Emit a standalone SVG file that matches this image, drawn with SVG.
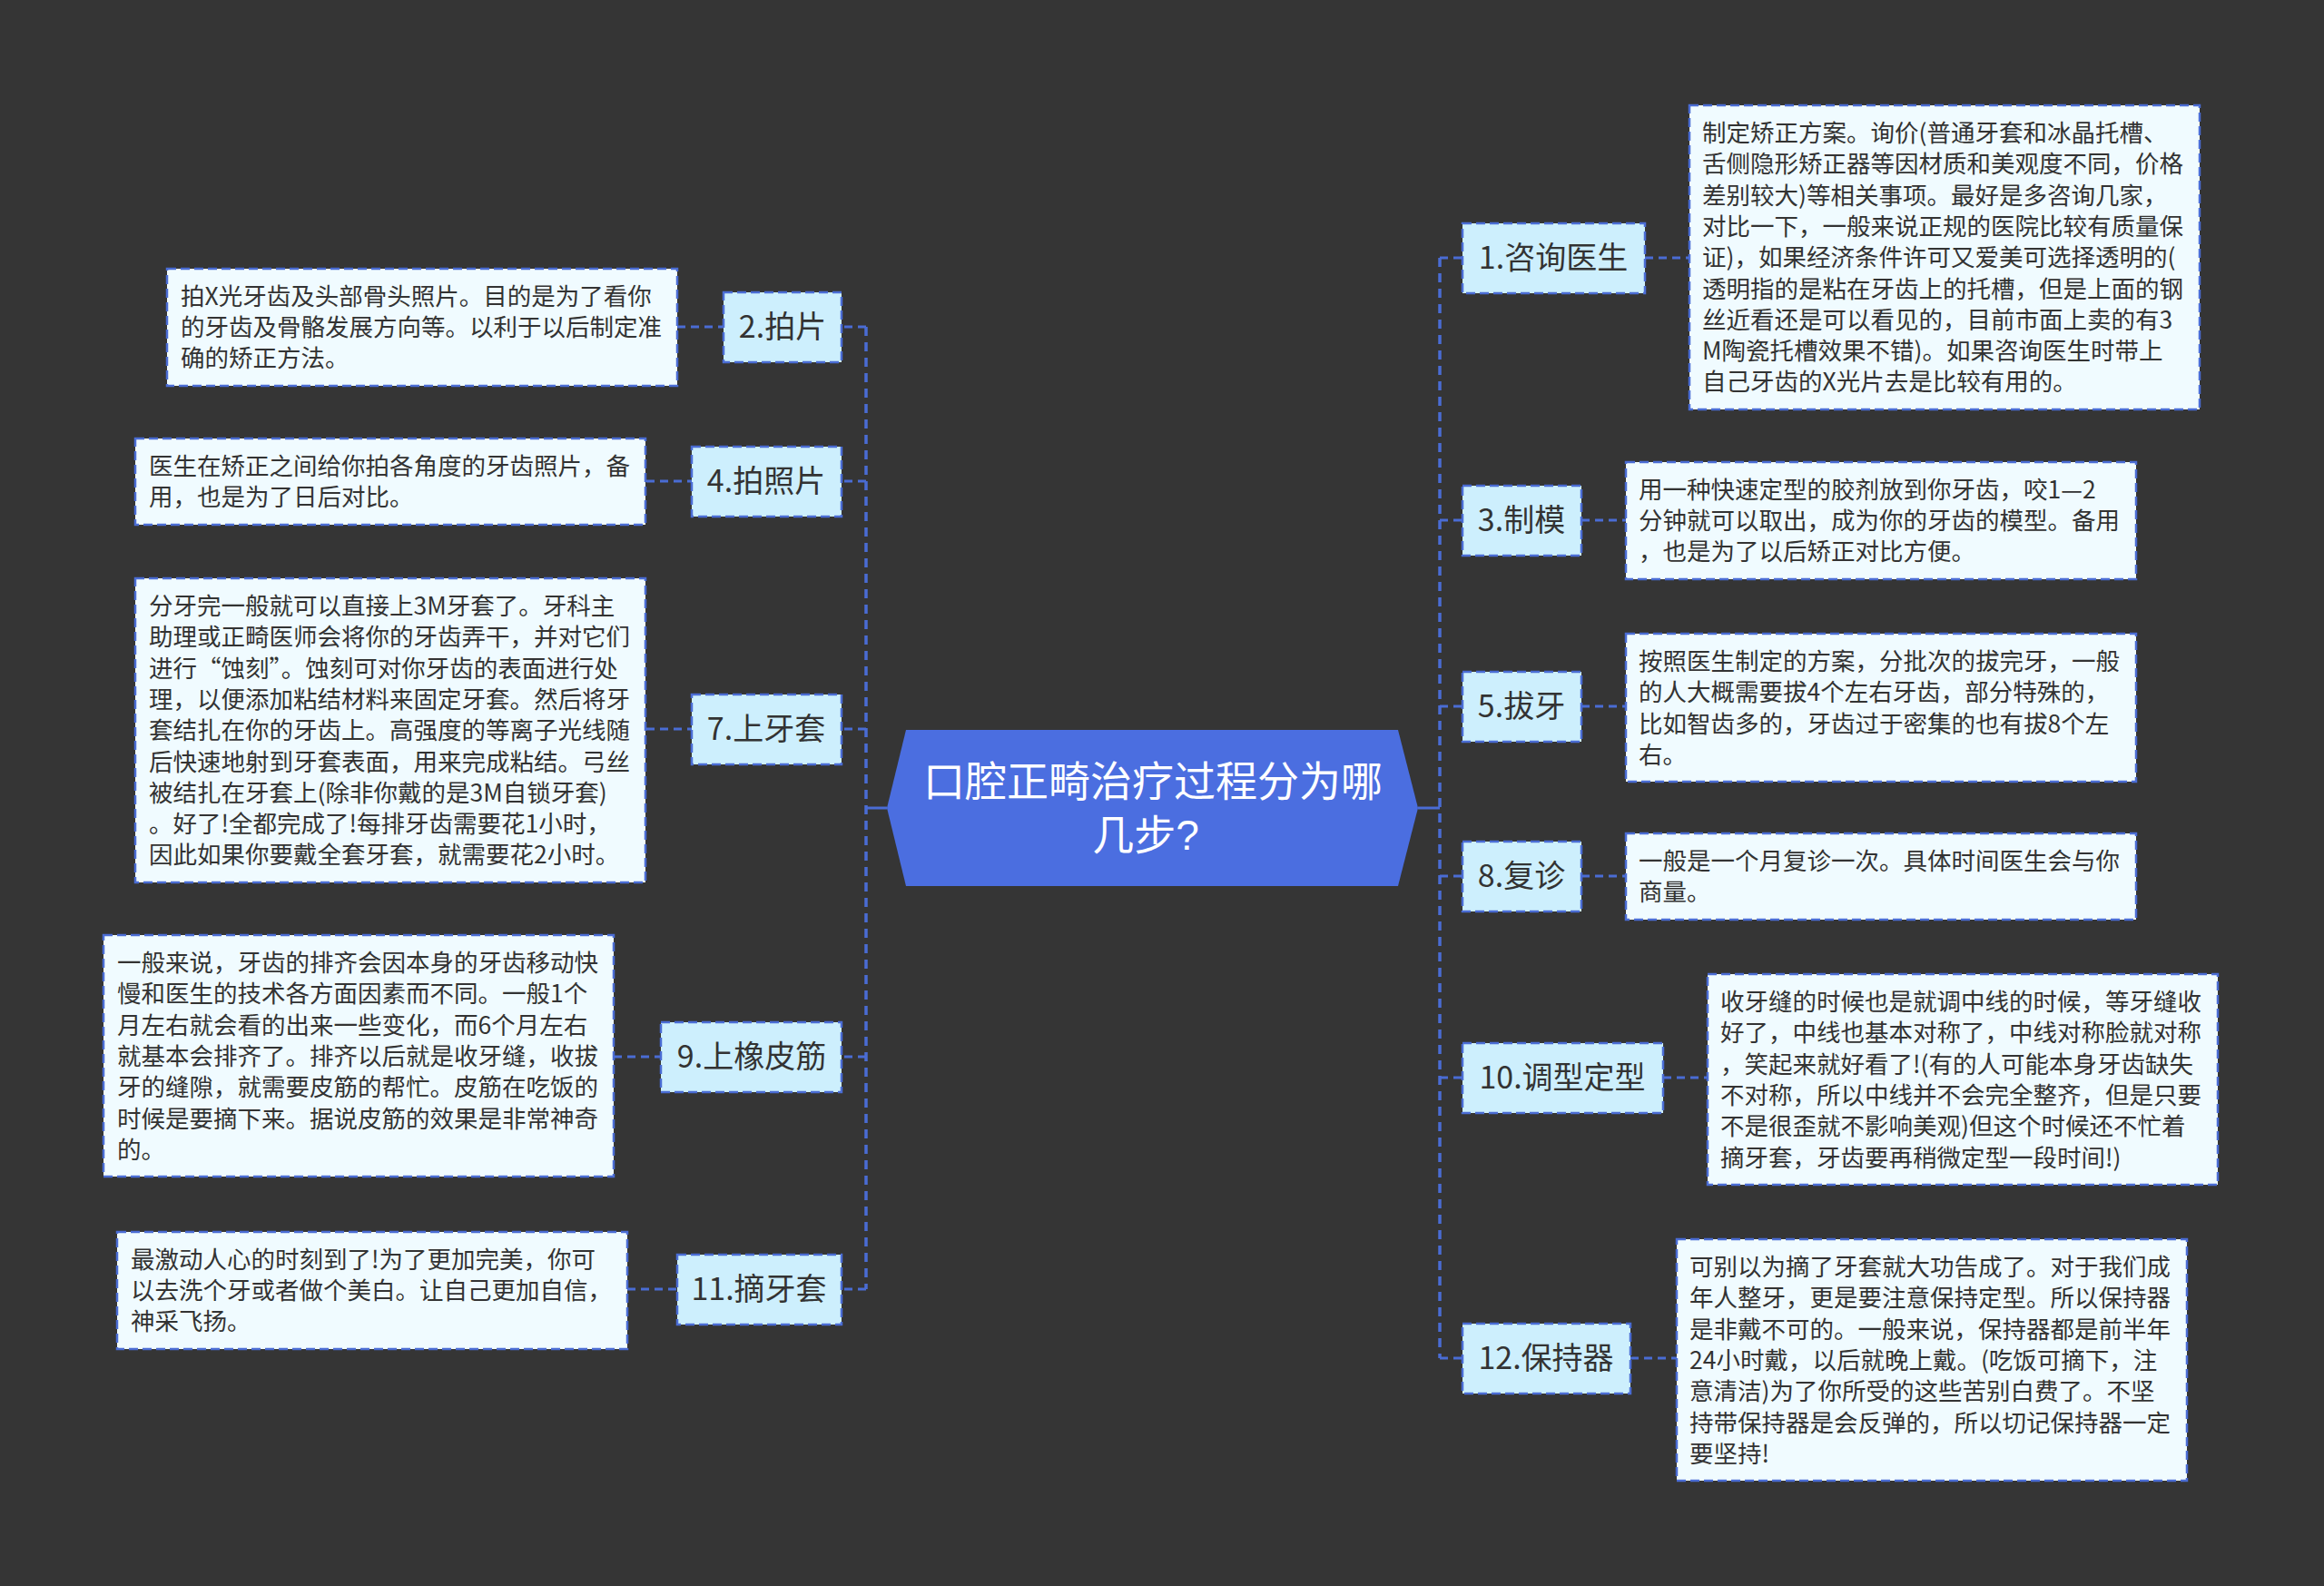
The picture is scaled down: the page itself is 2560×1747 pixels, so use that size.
<svg xmlns="http://www.w3.org/2000/svg" width="2560" height="1747" viewBox="0 0 2560 1747">
<style>
.bg{fill:#353535}
.node rect{fill:#CDEFFD;stroke:#4A6CD4;stroke-width:2.5;stroke-dasharray:10 5}
.node text{font-family:"Noto Sans CJK SC","Noto Sans",sans-serif;font-size:34px;fill:#333;text-anchor:middle}
.desc rect{fill:#F0FBFF;stroke:#4A6CD4;stroke-width:2.5;stroke-dasharray:10 5}
.desc text{font-family:"Noto Sans CJK SC","Noto Sans",sans-serif;font-size:26.5px;fill:#333}
.conn path{fill:none;stroke:#4A6CD4;stroke-width:3;stroke-dasharray:9 6}
.conn path.trunk{stroke-width:3.5;stroke-dasharray:10 7}
.conn path.solid{stroke-dasharray:none;stroke-width:3}
.center text{font-family:"Liberation Sans","Noto Sans CJK SC",sans-serif;font-size:46px;fill:#fff;text-anchor:middle}
</style>
<rect class="bg" x="0" y="0" width="2560" height="1747"/>
<g id="connectors" class="conn">
<path class="solid" d="M977 890H953"/>
<path class="solid" d="M1562 890H1586"/>
<path class="trunk" d="M954 360V1420"/>
<path class="trunk" d="M1586 284V1496"/>
<path d="M954 360H927M954 530H927M954 803H927M954 1164H927M954 1420H927"/>
<path d="M1586 284H1611M1586 573H1611M1586 778H1611M1586 965H1611M1586 1187H1611M1586 1496H1611"/>
<path d="M746 360H797M712 530H762M712 803H762M676 1164H728M691 1420H746"/>
<path d="M1812 284H1861M1742 573H1791M1742 778H1791M1742 965H1791M1832 1187H1881M1796 1496H1847"/>
</g>
<g id="center" class="center">
<polygon points="998,804 1540,804 1562,890 1540,976 998,976 977,890" fill="#4B6EE0"/>
<text><tspan x="1270" y="877">口腔正畸治疗过程分为哪</tspan><tspan x="1262" y="936">几步?</tspan></text>
</g>
<g id="n2" class="node"><rect x="797" y="322" width="130" height="77"/><text x="862" y="372">2.拍片</text></g>
<g id="n4" class="node"><rect x="762" y="492" width="165" height="77"/><text x="844" y="542">4.拍照片</text></g>
<g id="n7" class="node"><rect x="762" y="765" width="165" height="77"/><text x="844" y="815">7.上牙套</text></g>
<g id="n9" class="node"><rect x="728" y="1126" width="199" height="77"/><text x="828" y="1176">9.上橡皮筋</text></g>
<g id="n11" class="node"><rect x="746" y="1382" width="181" height="77"/><text x="836" y="1432">11.摘牙套</text></g>
<g id="n1" class="node"><rect x="1611" y="246" width="201" height="77"/><text x="1711" y="296">1.咨询医生</text></g>
<g id="n3" class="node"><rect x="1611" y="535" width="131" height="77"/><text x="1676" y="585">3.制模</text></g>
<g id="n5" class="node"><rect x="1611" y="740" width="131" height="77"/><text x="1676" y="790">5.拔牙</text></g>
<g id="n8" class="node"><rect x="1611" y="927" width="131" height="77"/><text x="1676" y="977">8.复诊</text></g>
<g id="n10" class="node"><rect x="1611" y="1149" width="221" height="77"/><text x="1721" y="1199">10.调型定型</text></g>
<g id="n12" class="node"><rect x="1611" y="1458" width="185" height="77"/><text x="1703" y="1508">12.保持器</text></g>
<g id="d2" class="desc"><rect x="184" y="296" width="562" height="129"/><text><tspan x="199" y="336">拍X光牙齿及头部骨头照片。目的是为了看你</tspan><tspan x="199" y="370">的牙齿及骨骼发展方向等。以利于以后制定准</tspan><tspan x="199" y="404">确的矫正方法。</tspan></text></g>
<g id="d4" class="desc"><rect x="149" y="483" width="562" height="95"/><text><tspan x="164" y="523">医生在矫正之间给你拍各角度的牙齿照片，备</tspan><tspan x="164" y="557">用，也是为了日后对比。</tspan></text></g>
<g id="d7" class="desc"><rect x="149" y="637" width="562" height="335"/><text><tspan x="164" y="677">分牙完一般就可以直接上3M牙套了。牙科主</tspan><tspan x="164" y="711">助理或正畸医师会将你的牙齿弄干，并对它们</tspan><tspan x="164" y="746">进行“蚀刻”。蚀刻可对你牙齿的表面进行处</tspan><tspan x="164" y="780">理，以便添加粘结材料来固定牙套。然后将牙</tspan><tspan x="164" y="814">套结扎在你的牙齿上。高强度的等离子光线随</tspan><tspan x="164" y="849">后快速地射到牙套表面，用来完成粘结。弓丝</tspan><tspan x="164" y="883">被结扎在牙套上(除非你戴的是3M自锁牙套)</tspan><tspan x="164" y="917">。好了!全都完成了!每排牙齿需要花1小时，</tspan><tspan x="164" y="951">因此如果你要戴全套牙套，就需要花2小时。</tspan></text></g>
<g id="d9" class="desc"><rect x="114" y="1030" width="562" height="266"/><text><tspan x="129" y="1070">一般来说，牙齿的排齐会因本身的牙齿移动快</tspan><tspan x="129" y="1104">慢和医生的技术各方面因素而不同。一般1个</tspan><tspan x="129" y="1139">月左右就会看的出来一些变化，而6个月左右</tspan><tspan x="129" y="1173">就基本会排齐了。排齐以后就是收牙缝，收拔</tspan><tspan x="129" y="1207">牙的缝隙，就需要皮筋的帮忙。皮筋在吃饭的</tspan><tspan x="129" y="1242">时候是要摘下来。据说皮筋的效果是非常神奇</tspan><tspan x="129" y="1276">的。</tspan></text></g>
<g id="d11" class="desc"><rect x="129" y="1357" width="562" height="129"/><text><tspan x="144" y="1397">最激动人心的时刻到了!为了更加完美，你可</tspan><tspan x="144" y="1431">以去洗个牙或者做个美白。让自己更加自信，</tspan><tspan x="144" y="1465">神采飞扬。</tspan></text></g>
<g id="d1" class="desc"><rect x="1861" y="116" width="562" height="335"/><text><tspan x="1875" y="156">制定矫正方案。询价(普通牙套和冰晶托槽、</tspan><tspan x="1875" y="190">舌侧隐形矫正器等因材质和美观度不同，价格</tspan><tspan x="1875" y="225">差别较大)等相关事项。最好是多咨询几家，</tspan><tspan x="1875" y="259">对比一下，一般来说正规的医院比较有质量保</tspan><tspan x="1875" y="293">证)，如果经济条件许可又爱美可选择透明的(</tspan><tspan x="1875" y="328">透明指的是粘在牙齿上的托槽，但是上面的钢</tspan><tspan x="1875" y="362">丝近看还是可以看见的，目前市面上卖的有3</tspan><tspan x="1875" y="396">M陶瓷托槽效果不错)。如果咨询医生时带上</tspan><tspan x="1875" y="430">自己牙齿的X光片去是比较有用的。</tspan></text></g>
<g id="d3" class="desc"><rect x="1791" y="509" width="562" height="129"/><text><tspan x="1805" y="549">用一种快速定型的胶剂放到你牙齿，咬1—2</tspan><tspan x="1805" y="583">分钟就可以取出，成为你的牙齿的模型。备用</tspan><tspan x="1805" y="617">，也是为了以后矫正对比方便。</tspan></text></g>
<g id="d5" class="desc"><rect x="1791" y="698" width="562" height="163"/><text><tspan x="1805" y="738">按照医生制定的方案，分批次的拔完牙，一般</tspan><tspan x="1805" y="772">的人大概需要拔4个左右牙齿，部分特殊的，</tspan><tspan x="1805" y="807">比如智齿多的，牙齿过于密集的也有拔8个左</tspan><tspan x="1805" y="841">右。</tspan></text></g>
<g id="d8" class="desc"><rect x="1791" y="918" width="562" height="95"/><text><tspan x="1805" y="958">一般是一个月复诊一次。具体时间医生会与你</tspan><tspan x="1805" y="992">商量。</tspan></text></g>
<g id="d10" class="desc"><rect x="1881" y="1073" width="562" height="232"/><text><tspan x="1895" y="1113">收牙缝的时候也是就调中线的时候，等牙缝收</tspan><tspan x="1895" y="1147">好了，中线也基本对称了，中线对称脸就对称</tspan><tspan x="1895" y="1182">，笑起来就好看了!(有的人可能本身牙齿缺失</tspan><tspan x="1895" y="1216">不对称，所以中线并不会完全整齐，但是只要</tspan><tspan x="1895" y="1250">不是很歪就不影响美观)但这个时候还不忙着</tspan><tspan x="1895" y="1285">摘牙套，牙齿要再稍微定型一段时间!)</tspan></text></g>
<g id="d12" class="desc"><rect x="1847" y="1365" width="562" height="266"/><text><tspan x="1861" y="1405">可别以为摘了牙套就大功告成了。对于我们成</tspan><tspan x="1861" y="1439">年人整牙，更是要注意保持定型。所以保持器</tspan><tspan x="1861" y="1474">是非戴不可的。一般来说，保持器都是前半年</tspan><tspan x="1861" y="1508">24小时戴，以后就晚上戴。(吃饭可摘下，注</tspan><tspan x="1861" y="1542">意清洁)为了你所受的这些苦别白费了。不坚</tspan><tspan x="1861" y="1577">持带保持器是会反弹的，所以切记保持器一定</tspan><tspan x="1861" y="1611">要坚持!</tspan></text></g>
</svg>
